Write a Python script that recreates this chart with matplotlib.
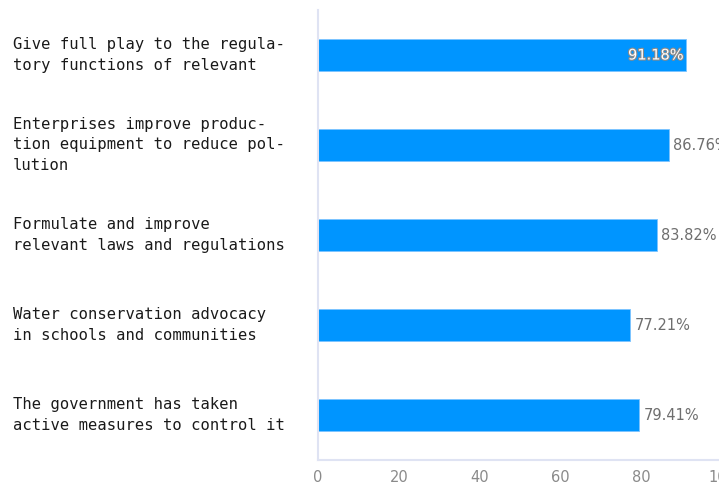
import matplotlib
matplotlib.use("Agg")
import matplotlib.pyplot as plt
import matplotlib.patheffects as pe
from matplotlib.transforms import blended_transform_factory

# Survey measures, listed top to bottom
measures = [
    "Give full play to the regula-\ntory functions of relevant",
    "Enterprises improve produc-\ntion equipment to reduce pol-\nlution",
    "Formulate and improve\nrelevant laws and regulations",
    "Water conservation advocacy\nin schools and communities",
    "The government has taken\nactive measures to control it",
]
shares = [91.18, 86.76, 83.82, 77.21, 79.41]
x_ticks = [0, 20, 40, 60, 80, 100]

bar_color = "#0095ff"
axis_color = "#dfe3f3"
text_gray = "#6e6e6e"

fig = plt.figure(figsize=(7.19, 4.86), dpi=100)
# axes run slightly past the right edge so the 100 tick is clipped
ax = fig.add_axes([318 / 719, 26 / 486, 404 / 719, 450 / 486])

pos = list(range(len(measures)))[::-1]
ax.barh(pos, shares, height=0.36, color=bar_color, edgecolor="#7cc4ff", linewidth=0.6)

ax.set_xlim(0, 100)
ax.set_ylim(-0.5, len(measures) - 0.5)
ax.set_xticks(x_ticks)
ax.set_xticklabels([str(t) for t in x_ticks], color="#8a8a8a", fontsize=10.5)
ax.tick_params(axis="x", length=0, pad=7)
ax.set_yticks([])

for side in ["top", "right"]:
    ax.spines[side].set_visible(False)
ax.spines["left"].set_color(axis_color)
ax.spines["bottom"].set_color(axis_color)
ax.spines["left"].set_linewidth(1.5)
ax.spines["bottom"].set_linewidth(1.5)

# category labels in monospace at the left edge of the figure
trans = blended_transform_factory(fig.transFigure, ax.transData)
for y, label in zip(pos, measures):
    ax.text(13 / 719, y, label, transform=trans, ha="left", va="center",
            family="DejaVu Sans Mono", fontsize=11.2, color="#1a1a1a",
            linespacing=1.42)

# value labels; the longest bar carries its label inside
for i, (y, v) in enumerate(zip(pos, shares)):
    if i == 0:
        ax.text(v - 0.7, y, f"{v:.2f}%", ha="right", va="center", fontsize=10.5,
                color="white",
                path_effects=[pe.withStroke(linewidth=1.6, foreground="#8a8a8a")])
    else:
        ax.text(v + 1.2, y, f"{v:.2f}%", ha="left", va="center", fontsize=10.5,
                color=text_gray)

fig.savefig("out.png", dpi=100)
